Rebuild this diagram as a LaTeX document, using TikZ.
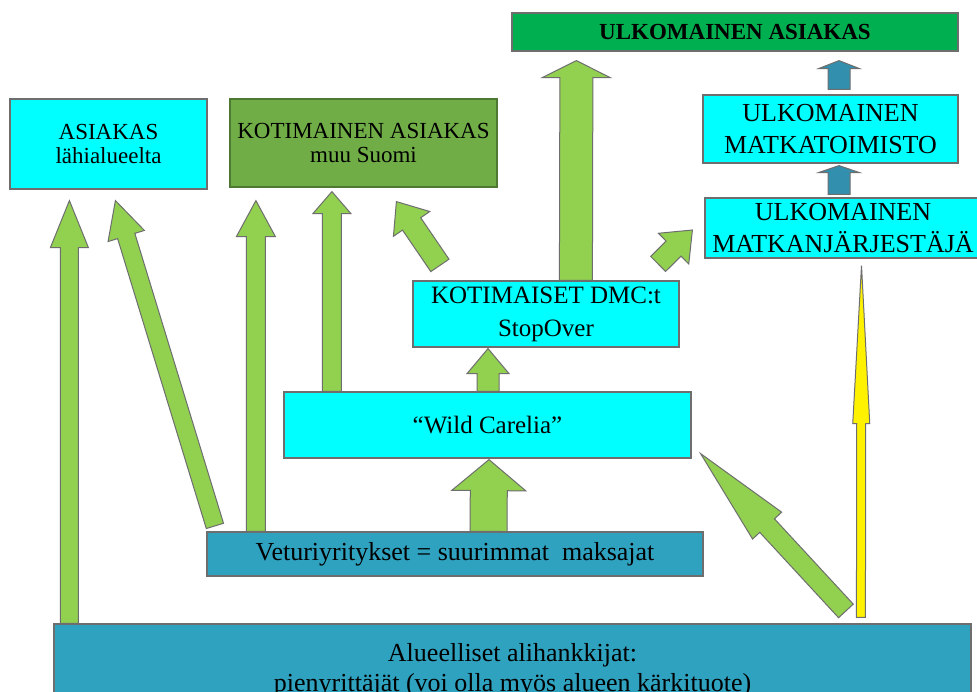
\documentclass[tikz,border=0pt]{standalone}
\usepackage{fontspec}
\setmainfont{Liberation Serif}
\usetikzlibrary{calc}

\definecolor{boxcyan}{HTML}{00FFFF}
\definecolor{kotgreen}{HTML}{70AD47}
\definecolor{ulkgreen}{HTML}{00B050}
\definecolor{vetblue}{HTML}{2FA2C0}
\definecolor{arrgreen}{HTML}{92D050}
\definecolor{arrblue}{HTML}{3290AE}
\definecolor{linegray}{HTML}{6E6E6E}

\tikzset{
  box/.style={draw=linegray, line width=0.6pt, align=center, inner sep=0pt,
    font=\fontsize{13}{16}\selectfont},
  arr/.style={draw=linegray, fill=arrgreen, line width=0.5pt},
  blu/.style={draw=linegray, fill=arrblue, line width=0.5pt},
  yel/.style={draw=linegray, fill=yellow, line width=0.5pt}
}

% block arrow: [style]{tail}{tip}{half shaft}{half head}{head length}
\newcommand{\blockarrow}[6][arr]{%
  \path (#2) coordinate (ba-s) (#3) coordinate (ba-e);
  \path ($(ba-e)!#6!(ba-s)$) coordinate (ba-h);
  \draw[#1] ($(ba-s)!#4!90:(ba-e)$) -- ($(ba-h)!#4!90:(ba-e)$)
    -- ($(ba-h)!#5!90:(ba-e)$) -- (ba-e) -- ($(ba-h)!#5!-90:(ba-e)$)
    -- ($(ba-h)!#4!-90:(ba-e)$) -- ($(ba-s)!#4!-90:(ba-e)$) -- cycle;
}

\begin{document}
\begin{tikzpicture}[x=0.5pt,y=-0.5pt]
\clip (0,0) rectangle (977,691);
\fill[white] (0,0) rectangle (977,691);

% boxes
\node[box, fill=boxcyan, minimum width=98.5pt, minimum height=45pt,
  font=\fontsize{11.5}{12}\selectfont] (lah) at (108.5,144) {ASIAKAS\\lähialueelta};
\node[box, fill=kotgreen, draw=kotgreen!70!black, minimum width=133.5pt, minimum height=44pt,
  font=\fontsize{11.5}{12}\selectfont] (kot) at (363.5,143) {KOTIMAINEN ASIAKAS\\muu Suomi};
\node[box, fill=ulkgreen, minimum width=223pt, minimum height=19pt,
  font=\fontsize{11.5}{12}\selectfont\bfseries] (ulk) at (735,32) {ULKOMAINEN ASIAKAS};
\node[box, fill=boxcyan, minimum width=127.5pt, minimum height=34pt] (mto) at (830.5,129)
  {ULKOMAINEN\\MATKATOIMISTO};
\node[box, fill=boxcyan, minimum width=138pt, minimum height=30pt] (mjo) at (843,228)
  {ULKOMAINEN\\MATKANJÄRJESTÄJÄ};
\node[box, fill=boxcyan, minimum width=133pt, minimum height=33pt,
  font=\fontsize{12.5}{16.5}\selectfont] (dmc) at (546,314) {KOTIMAISET DMC:t\\StopOver};
\node[box, fill=boxcyan, minimum width=203.5pt, minimum height=33pt,
  font=\fontsize{12.5}{15}\selectfont] (wild) at (487.5,425) {“Wild Carelia”};
\node[box, fill=vetblue, minimum width=248pt, minimum height=22pt] (vet) at (455,554)
  {Veturiyritykset = suurimmat~~maksajat};
\node[box, fill=vetblue, minimum width=458.5pt, minimum height=46pt,
  font=\fontsize{13}{15}\selectfont] (alu) at (512.5,670)
  {Alueelliset alihankkijat:\\pienyrittäjät (voi olla myös alueen kärkituote)};

% arrows
\blockarrow{$(alu.north west)+(16,0)$}{$(lah.south west)+(60,11)$}{4.5pt}{9.5pt}{23.5pt}
\blockarrow{$(vet.north west)+(8.5,-5.5)$}{$(lah.south west)+(106,11)$}{4.5pt}{9.5pt}{18.5pt}
\blockarrow{$(vet.north west)+(49.5,0)$}{$(kot.south west)+(26.5,13)$}{4.75pt}{9.75pt}{18pt}
\blockarrow{$(wild.north west)+(48.5,0)$}{$(kot.south west)+(102.5,4)$}{4.75pt}{9.5pt}{11pt}
\blockarrow{$(dmc.north west)+(27.5,-15)$}{$(kot.south west)+(167,14)$}{5.5pt}{11pt}{13.5pt}
\blockarrow{$(dmc.north west)+(163.5,0)$}{$(ulk.south west)+(65,9)$}{8.25pt}{17pt}{8.5pt}
\blockarrow{$(dmc.north east)+(-21.5,-16.5)$}{$(mjo.west)+(-12,2)$}{5.3pt}{10.8pt}{13.25pt}
\blockarrow[blu]{$(mjo.north)+(-4,-3)$}{$(mto.south)+(8.5,2)$}{5.5pt}{10.25pt}{3.5pt}
\blockarrow[blu]{$(mto.north)+(8.5,-5)$}{$(ulk.south)+(104,9)$}{5.5pt}{10.25pt}{4pt}
\blockarrow[yel]{$(alu.north west)+(807.5,-6)$}{$(mjo.south)+(18.5,7)$}{2.25pt}{4.25pt}{79pt}
\blockarrow{$(alu.north west)+(792.5,-12.5)$}{$(wild.south east)+(9,-5)$}{5pt}{9.9pt}{49pt}
\blockarrow{$(vet.north)+(33.5,0)$}{$(wild.south)+(1.5,1)$}{9.25pt}{18.5pt}{15.5pt}
\blockarrow{$(wild.north)+(0.5,0)$}{$(dmc.south)+(-58,1)$}{5.5pt}{10.5pt}{12.5pt}

\end{tikzpicture}
\end{document}
